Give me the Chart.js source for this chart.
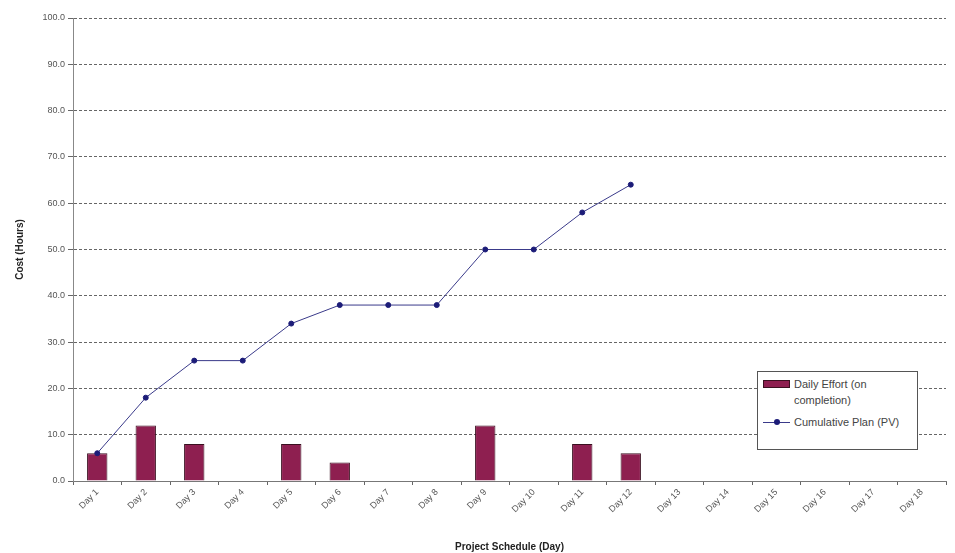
<!DOCTYPE html>
<html>
<head>
<meta charset="utf-8">
<script src="https://cdn.jsdelivr.net/npm/chart.js@4/dist/chart.umd.min.js"></script>
<style>
    html, body { margin: 0; padding: 0; background: #fff; }
    #wrap { position: relative; width: 955px; height: 553px; }
    #legend {
        position: absolute; left: 757px; top: 371px; width: 161px; height: 79px;
        border: 1px solid #555; background: #fff; box-sizing: border-box;
        font-family: "Liberation Sans", Arial, sans-serif; font-size: 11px; line-height: 16px; color: #444;
        padding: 4px 4px 0 5px;
    }
    .lg-row { display: flex; align-items: flex-start; margin-bottom: 6px; }
    .lg-bar { width: 25px; height: 6px; background: #8e1f50; border: 1px solid #3a1020; margin: 4px 4px 0 0; flex: none; }
    .lg-line { position: relative; width: 27px; height: 16px; margin-right: 4px; flex: none; }
    .lg-line:before { content: ''; position: absolute; left: 0; right: 0; top: 8px; border-top: 1px solid #3a3a8a; }
    .lg-line:after { content: ''; position: absolute; left: 11px; top: 5px; width: 6px; height: 6px; border-radius: 50%; background: #1c1c78; }
</style>
</head>
<body>
<div id="wrap">
    <canvas id="chart" width="955" height="553"></canvas>
    <div id="legend">
        <div class="lg-row"><span class="lg-bar"></span><span>Daily Effort (on<br>completion)</span></div>
        <div class="lg-row"><span class="lg-line"></span><span>Cumulative Plan (PV)</span></div>
    </div>
</div>
<script>
'use strict';

var days = ['Day 1', 'Day 2', 'Day 3', 'Day 4', 'Day 5', 'Day 6', 'Day 7', 'Day 8', 'Day 9',
    'Day 10', 'Day 11', 'Day 12', 'Day 13', 'Day 14', 'Day 15', 'Day 16', 'Day 17', 'Day 18'];
var dailyEffort = [6, 12, 8, null, 8, 4, null, null, 12, null, 8, 6, null, null, null, null, null, null];
var cumulativePlan = [6, 18, 26, 26, 34, 38, 38, 38, 50, 50, 58, 64, null, null, null, null, null, null];

var fontFamily = '"Liberation Sans", Arial, sans-serif';

var chart = new Chart(document.getElementById('chart').getContext('2d'), {
    type: 'bar',
    data: {
        labels: days,
        datasets: [
            {
                type: 'line',
                label: 'Cumulative Plan (PV)',
                data: cumulativePlan,
                borderColor: '#3a3a8a',
                borderWidth: 1,
                pointBackgroundColor: '#1c1c78',
                pointBorderColor: '#1c1c78',
                pointRadius: 2.5,
                tension: 0,
                order: 0
            },
            {
                label: 'Daily Effort (on completion)',
                data: dailyEffort,
                backgroundColor: '#8e1f50',
                borderColor: '#3a1020',
                borderWidth: 1,
                barPercentage: 0.42,
                categoryPercentage: 1,
                order: 1
            }
        ]
    },
    options: {
        responsive: false,
        animation: false,
        layout: { padding: { top: 18, right: 9, left: 0, bottom: 0 } },
        plugins: {
            legend: { display: false },
            tooltip: { enabled: false }
        },
        scales: {
            x: {
                grid: { display: true, offset: true, drawOnChartArea: false, drawTicks: true, tickLength: 4, color: '#666' },
                border: { color: '#777', width: 1 },
                ticks: {
                    minRotation: 45, maxRotation: 45, autoSkip: false,
                    color: '#555', font: { family: fontFamily, size: 9 }, padding: 2
                },
                title: {
                    display: true, text: 'Project Schedule (Day)', color: '#222',
                    font: { family: fontFamily, size: 10, weight: 'bold' }, padding: { top: 0, bottom: 0 }
                },
                afterFit: function (scale) { scale.height = 72; }
            },
            y: {
                min: 0, max: 100,
                grid: { color: '#666', tickLength: 5 },
                border: { color: '#888', width: 1, dash: [3, 2] },
                ticks: {
                    stepSize: 10, color: '#555', font: { family: fontFamily, size: 9 }, padding: 3,
                    callback: function (v) { return v.toFixed(1); }
                },
                title: {
                    display: true, text: 'Cost (Hours)', color: '#222',
                    font: { family: fontFamily, size: 10, weight: 'bold' }, padding: { top: 14, bottom: 4 }
                },
                afterFit: function (scale) { scale.width = 73; }
            }
        }
    }
});
</script>
</body>
</html>
